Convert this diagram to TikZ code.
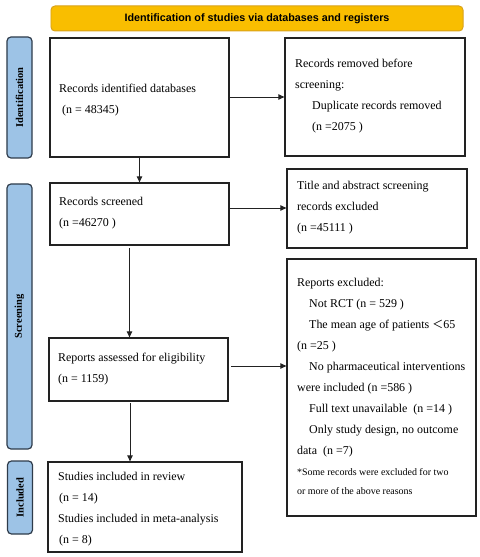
\documentclass[tikz,border=0pt]{standalone}
\usepackage{fontspec}
\setmainfont{Liberation Serif}
\newfontfamily\hdrfont{Liberation Sans}
\newfontfamily\cjkfont{Noto Sans CJK SC}
\usetikzlibrary{arrows.meta}
\definecolor{hdrfill}{HTML}{F9BE00}
\definecolor{hdrline}{HTML}{D9A21A}
\definecolor{sidefill}{HTML}{9DC3E6}
\definecolor{sideline}{HTML}{2E3B4A}
\definecolor{boxline}{HTML}{222222}
\tikzset{
  box/.style={draw=boxline, line width=1.3pt, fill=white},
  side/.style={draw=sideline, line width=1.2pt, fill=sidefill, rounded corners=4pt},
  sidetext/.style={rotate=90, font=\fontsize{10.5}{12}\selectfont\bfseries, text=black},
  txt/.style={anchor=north west, yshift=7.7bp, align=left, inner sep=0pt, font=\fontsize{12}{21}\selectfont, execute at begin node={\fontsize{12}{21}\selectfont\strut}},
  note/.style={anchor=north west, yshift=5.95bp, align=left, inner sep=0pt, font=\fontsize{10}{18.5}\selectfont, execute at begin node={\fontsize{10}{18.5}\selectfont\strut}},
  arr/.style={draw=boxline, line width=0.9pt, -{Triangle[length=6pt,width=5.5pt]}}
}
\begin{document}
\begin{tikzpicture}[x=1bp,y=-1bp]
\useasboundingbox (0,0) rectangle (480,557);
% header
\node[draw=hdrline, line width=1pt, fill=hdrfill, rounded corners=4pt, minimum width=412bp, minimum height=25bp, inner sep=0pt,
  font=\hdrfont\fontsize{10.8}{12}\selectfont\bfseries] (hdr) at (257,18.5) {Identification of studies via databases and registers};
% side labels
\node[side, minimum width=25bp, minimum height=121bp, inner sep=0pt] (sid) at (19.5,97.5) {};
\node[sidetext] (sidt) at (sid.center) {Identification};
\node[side, minimum width=25bp, minimum height=265bp, inner sep=0pt] (ssc) at (19.5,316.5) {};
\node[sidetext] (ssct) at (ssc.center) {Screening};
\node[side, minimum width=25bp, minimum height=73bp, inner sep=0pt] (sin) at (20,497.5) {};
\node[sidetext] (sint) at (sin.center) {Included};
% boxes
\node[box, minimum width=179bp, minimum height=119bp, inner sep=0pt] (b1) at (139.5,97.5) {};
\node[box, minimum width=180bp, minimum height=118bp, inner sep=0pt] (b2) at (375,97) {};
\node[box, minimum width=179bp, minimum height=62bp, inner sep=0pt] (b3) at (139.5,214) {};
\node[box, minimum width=180bp, minimum height=79bp, inner sep=0pt] (b4) at (377,208.5) {};
\node[box, minimum width=189bp, minimum height=257bp, inner sep=0pt] (b5) at (381.5,387.5) {};
\node[box, minimum width=179bp, minimum height=63bp, inner sep=0pt] (b6) at (138.5,369.5) {};
\node[box, minimum width=194bp, minimum height=90bp, inner sep=0pt] (b7) at (145,507) {};
% texts
\node[txt] (t1) at (59,92) {Records identified databases\\\hspace{3bp}(n = 48345)};
\node[txt] (t2) at (295,67) {Records removed before\\screening:\\\hspace{17bp}Duplicate records removed\\\hspace{17bp}(n =2075 )};
\node[txt] (t3) at (59,205) {Records screened\\(n =46270 )};
\node[txt] (t4) at (297,189) {Title and abstract screening\\records excluded\\(n =45111 )};
\node[txt] (t6) at (58,361) {Reports assessed for eligibility\\(n = 1159)};
\node[txt] (t7) at (58,480) {Studies included in review\\\hspace{1bp}(n = 14)\\Studies included in meta-analysis\\\hspace{1bp}(n = 8)};
\node[txt] (t5) at (297,286) {Reports excluded:\\
\hspace{12bp}Not RCT (n = 529 )\\
\hspace{12bp}The mean age of patients {\cjkfont\fontsize{11}{21}\selectfont ＜}65\\
(n =25 )\\
\hspace{12bp}No pharmaceutical interventions\\
were included (n =586 )\\
\hspace{12bp}Full text unavailable \ (n =14 )\\
\hspace{12bp}Only study design, no outcome\\
data \ (n =7)};
\node[note] (t5n) at (297,474.5) {*Some records were excluded for two\\or more of the above reasons};
% arrows
\draw[arr] (b1.east |- 0,97) -- (b2.west |- 0,97);
\draw[arr] (b1.south) -- (b3.north);
\draw[arr] (b3.east |- 0,208) -- (b4.west |- 0,208);
\draw[arr] (129.5,248) -- (b6.north -| 129.5,0);
\draw[arr] (231,366) -- (b5.west |- 0,366);
\draw[arr] (130,403) -- (b7.north -| 130,0);
\end{tikzpicture}
\end{document}
